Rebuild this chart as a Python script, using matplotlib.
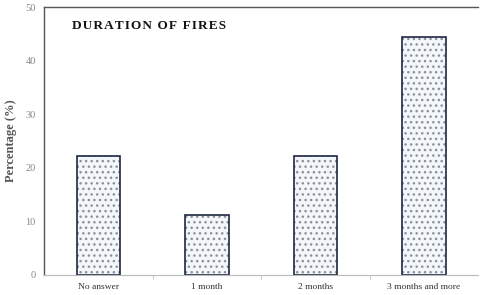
import matplotlib
matplotlib.use('Agg')
import matplotlib.pyplot as plt
import numpy as np

categories = ['No answer', '1 month', '2 months', '3 months and more']
values = [22.2, 11.1, 22.2, 44.4]
title = 'DURATION OF FIRES'

plt.rcParams['font.family'] = ['Liberation Serif', 'DejaVu Serif']

fig = plt.figure(figsize=(4.8, 2.95), dpi=100)
ax = fig.add_axes([0.092, 0.068, 0.904, 0.908])

x = np.arange(len(categories))
# hatch layer, then outline layer
ax.bar(x, values, width=0.4, color='#f3f6fb', edgecolor='#8c9099', hatch='...', linewidth=0)
ax.bar(x, values, width=0.4, fill=False, edgecolor='#1e2842', linewidth=1.2)

ax.set_xlim(-0.5, len(categories) - 0.5)
ax.set_ylim(0, 50)
ax.set_yticks([0, 10, 20, 30, 40, 50])
ax.set_xticks(x)
ax.set_xticklabels(categories)
ax.set_xticks(np.arange(0.5, len(categories) - 0.5, 1), minor=True)
ax.tick_params(axis='x', which='major', length=0, labelsize=6.8, colors='#333333', pad=6)
ax.tick_params(axis='x', which='minor', length=3, color='#bbbbbb')
ax.tick_params(axis='y', length=0, labelsize=7.5, labelcolor='#888888', pad=6)

for s in ['left', 'top']:
    ax.spines[s].set_color('#555555')
    ax.spines[s].set_linewidth(1.0)
ax.spines['bottom'].set_color('#bbbbbb')
ax.spines['right'].set_visible(False)

ax.set_ylabel('Percentage (%)', fontsize=9, fontweight='bold', color='#555555', labelpad=6)
ax.text(0.065, 0.93, '\u200a'.join(title), transform=ax.transAxes,
        fontsize=9.5, fontweight='bold', color='#111111', va='center')

fig.savefig('out.png', dpi=100)
